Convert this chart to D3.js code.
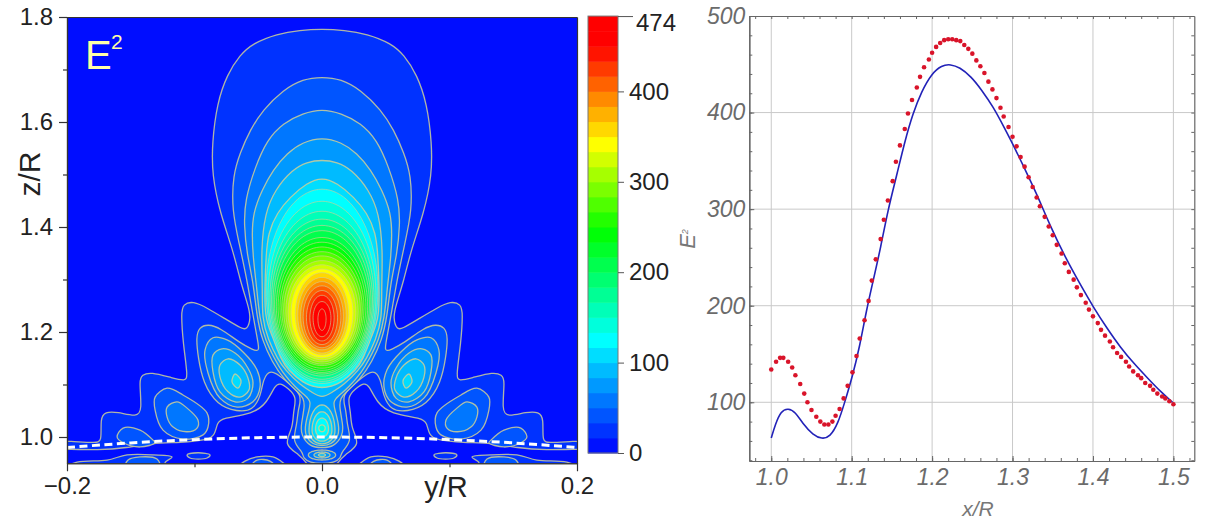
<!DOCTYPE html>
<html>
<head>
<meta charset="utf-8">
<script src="https://cdn.jsdelivr.net/npm/d3@7"></script>
<style>
  html, body { margin: 0; padding: 0; background: #fff; }
  svg { display: block; }
  text { font-family: "Liberation Sans", Arial, sans-serif; }
  .left .domain, .left .tick line { stroke: #333; stroke-width: 1.2; }
  .left .tick text { fill: #222; font-size: 24px; }
  .bar .domain { display: none; }
  .bar .tick line { stroke: #555; stroke-width: 1; }
  .bar .tick text { fill: #222; font-size: 24px; }
  .right .domain { stroke: #666; stroke-width: 1.2; }
  .right .tick line { stroke: #666; stroke-width: 1; }
  .right .tick text { fill: #6b6b6b; font-size: 23px; font-style: italic; }
</style>
</head>
<body>
<div id="chart"></div>
<script>
const WIDTH = 1205;
const HEIGHT = 524;

// left panel. contour step is 100/6, k is the level number
const LEVEL_STEP = 100 / 6;
const BAND_COUNT = 29;
const colorStops = [0, 125, 245, 342, 450];
const colorNames = ["#0000ff", "#00ffff", "#00ff00", "#ffff00", "#ff0000"];
const barTicks = [0, 100, 200, 300, 400, 474];

// half outlines [y, z], from the top of the axis y=0 round the left side to the bottom
const outline1 = [[0,1.777],[-.0173,1.775],[-.0353,1.768],[-.0541,1.750],[-.0643,1.728],[-.0745,1.690],[-.0823,1.636],[-.0862,1.560],[-.0862,1.499],[-.08,1.427],[-.0698,1.356],[-.0643,1.299],[-.058,1.251],[-.0557,1.227],[-.0588,1.204],[-.0627,1.206],[-.0745,1.223],[-.0902,1.246],[-.1011,1.259],[-.109,1.253],[-.1105,1.236],[-.109,1.179],[-.1051,1.114],[-.1074,1.107],[-.1168,1.112],[-.1348,1.124],[-.1411,1.118],[-.1435,1.109],[-.1411,1.051],[-.145,1.038],[-.1607,1.048],[-.1701,1.048],[-.174,1.036],[-.1725,.990],[-.178,.989],[-.1991,.992],[-.2054,.992],[-.2054,.975],[-.1991,.977],[-.1764,.975],[-.1529,.979],[-.1325,.989],[-.1113,.989],[-.0894,.994],[-.0839,1.004],[-.0823,1.027],[-.0784,1.036],[-.0541,1.044],[-.0431,1.065],[-.0368,1.099],[-.0329,1.103],[-.0267,1.093],[-.0196,1.076],[-.0227,1.048],[-.0227,1.017],[-.0306,.985],[-.0172,.966],[-.0118,.949],[-.0078,.937],[0,.937]];
const outline2 = [[0,1.686],[-.0149,1.682],[-.0306,1.661],[-.0463,1.623],[-.0564,1.585],[-.0643,1.541],[-.0698,1.499],[-.0706,1.432],[-.0651,1.370],[-.0588,1.299],[-.0549,1.242],[-.051,1.190],[-.0486,1.162],[-.0541,1.166],[-.0643,1.179],[-.08,1.208],[-.0894,1.215],[-.0964,1.209],[-.0988,1.190],[-.0972,1.152],[-.0933,1.103],[-.0823,1.061],[-.0666,1.048],[-.0541,1.050],[-.0478,1.080],[-.0463,1.109],[-.0408,1.131],[-.029,1.109],[-.0149,1.080],[-.0188,1.055],[-.0196,1.023],[-.0235,.991],[-.0149,.971],[-.0149,.960],[-.0094,.951],[0,.949]];
const outline3 = [[0,1.625],[-.0149,1.617],[-.0306,1.598],[-.0431,1.566],[-.0525,1.514],[-.0604,1.451],[-.0612,1.404],[-.0588,1.347],[-.0541,1.299],[-.051,1.227],[-.047,1.185],[-.0392,1.143],[-.0298,1.109],[-.0172,1.082],[-.0149,1.074],[-.0133,1.061],[-.0165,1.023],[-.0165,1.004],[-.0094,.981],[0,.979]];
const outline4 = [[0,1.571],[-.0149,1.562],[-.0274,1.541],[-.0384,1.509],[-.047,1.471],[-.0541,1.427],[-.0549,1.385],[-.0541,1.343],[-.051,1.280],[-.049,1.227],[-.0447,1.185],[-.0368,1.147],[-.0314,1.124],[-.0204,1.093],[-.0125,1.078],[-.0086,1.067],[-.0102,1.051],[-.0133,1.023],[-.0133,1.002],[-.0071,.985],[0,.983]];
const outline5 = [[0,1.528],[-.0118,1.524],[-.0235,1.509],[-.0368,1.471],[-.0447,1.427],[-.0478,1.356],[-.0466,1.280],[-.0471,1.227],[-.0423,1.185],[-.0345,1.147],[-.029,1.128],[-.0172,1.099],[-.0071,1.084],[0,1.074]];
const outline6 = [[0,1.495],[-.0118,1.484],[-.0251,1.457],[-.0353,1.427],[-.0423,1.389],[-.0439,1.343],[-.0447,1.299],[-.0451,1.227],[-.0392,1.194],[-.0321,1.147],[-.0267,1.128],[-.0157,1.103],[0,1.090]];

// closed rings off the axis, left side only, the right side is the mirror
const bigLobe3 = [[-.0855,1.189],[-.0745,1.185],[-.0619,1.162],[-.051,1.128],[-.0486,1.095],[-.0541,1.067],[-.0666,1.057],[-.08,1.074],[-.0894,1.122],[-.0917,1.166]];
const bigLobe4 = [[-.0784,1.168],[-.0682,1.160],[-.058,1.131],[-.0541,1.103],[-.058,1.074],[-.0682,1.067],[-.08,1.086],[-.0855,1.124],[-.0855,1.156]];
const bigLobe5 = [[-.0737,1.149],[-.0643,1.137],[-.058,1.112],[-.0572,1.090],[-.0643,1.076],[-.0737,1.086],[-.08,1.114],[-.08,1.137]];
const bigLobe6 = [[-.0682,1.120],[-.0635,1.107],[-.0659,1.093],[-.0706,1.105]];
const midLobe2 = [[-.1309,1.076],[-.1215,1.093],[-.109,1.080],[-.0902,1.046],[-.0894,1.019],[-.0933,1.004],[-.109,.996],[-.1247,1.013],[-.1309,1.051]];
const midLobe3 = [[-.1215,1.057],[-.1137,1.067],[-.1058,1.055],[-.0972,1.032],[-.098,1.017],[-.1058,1.010],[-.1168,1.019],[-.1215,1.038]];
const lowLobe2 = [[-.1607,1.000],[-.156,1.017],[-.1427,1.013],[-.1325,.994],[-.1309,.989],[-.1427,.981],[-.156,.989]];
const strip1 = [[-.2054,.937],[-.1921,.952],[-.1686,.956],[-.1529,.966],[-.1325,.966],[-.1176,.962],[-.1231,.951],[-.1192,.937]];
const strip2 = [[-.1544,.941],[-.1521,.956],[-.1427,.962],[-.1294,.958],[-.127,.941]];
const islandB = [[-.1058,.966],[-.0972,.970],[-.0878,.966],[-.0902,.960],[-.0972,.958],[-.1035,.960]];
const islandC1 = [[-.0659,.941],[-.0604,.954],[-.051,.962],[-.0384,.962],[-.0306,.951],[-.0267,.941]];
const islandC2 = [[-.0564,.941],[-.051,.956],[-.0408,.954],[-.0361,.941]];

// main lobe rings, levels 7 to 28
const lobeLevels = [7,8,9,10,11,12,13,14,15,16,17,18,19,20,21,22,23,24,25,26,27,28];
const lobeTop = [1.472,1.449,1.430,1.415,1.403,1.393,1.380,1.371,1.362,1.353,1.345,1.336,1.328,1.320,1.313,1.304,1.296,1.288,1.279,1.270,1.258,1.244];
const lobeBottom = [1.095,1.102,1.106,1.110,1.116,1.120,1.123,1.127,1.131,1.136,1.139,1.143,1.147,1.151,1.156,1.160,1.166,1.170,1.176,1.183,1.191,1.203];
const lobeWidest = [1.28,1.27,1.265,1.261,1.257,1.253,1.249,1.248,1.246,1.244,1.242,1.24,1.238,1.236,1.234,1.232,1.23,1.229,1.227,1.227,1.227,1.225];
const lobeHalfWidth = [.0439,.0423,.0408,.0396,.0384,.0372,.0358,.0344,.0330,.0316,.0301,.0284,.0266,.0243,.021,.019,.0168,.0148,.0122,.0095,.007,.0032];

// small lobe under the main one, and the blob at the bottom
const pearLevels = [5,6,7,8];
const pearTop = [1.061,1.048,1.036,1.023];
const pearBottom = [.987,.992,.9998,1.010];
const pearWidest = [1.012,1.013,1.015,1.017];
const pearHalfWidth = [.0102,.0078,.0051,.0025];
const blobLevels = [3,4,5];
const blobTop = [.9752,.9714,.9686];
const blobBottom = [.9562,.96,.9628];
const blobWidest = [.9657,.9657,.9657];
const blobHalfWidth = [.0107,.0063,.0027];

// sphere surface, the dashed line
const surfaceY = [-.2,-.15,-.1,-.05,0,.05,.1,.15,.2];
const surfaceZ = [.98,.9887,.995,.9987,1,.9987,.995,.9887,.98];

// right panel
const dotX = [1.000,1.006,1.011,1.015,1.021,1.026,1.030,1.036,1.041,1.045,1.050,1.056,1.061,1.066,1.071,1.076,1.080,1.085,1.090,1.095,1.101,1.106,1.110,1.116,1.121,1.125,1.130,1.136,1.140,1.145,1.151,1.155,1.160,1.166,1.170,1.175,1.181,1.185,1.190,1.196,1.200,1.205,1.210,1.215,1.220,1.225,1.230,1.235,1.240,1.245,1.250,1.255,1.260,1.265,1.270,1.275,1.280,1.285,1.289,1.295,1.300,1.305,1.310,1.315,1.320,1.325,1.330,1.334,1.340,1.345,1.350,1.355,1.361,1.365,1.370,1.376,1.380,1.385,1.391,1.395,1.400,1.406,1.410,1.415,1.421,1.425,1.430,1.435,1.441,1.445,1.450,1.456,1.460,1.465,1.471,1.475,1.480,1.486,1.490,1.495,1.500];
const dotE2 = [134,142,146,146,142,136,128,119,109,100,92,85,80,77,77,80,86,93,104,117,131,148,166,185,205,226,248,269,289,309,329,349,366,383,399,413,426,437,447,455,462,468,472,475,476,476,475,474,470,466,461,454,448,441,432,424,415,405,396,385,375,365,354,344,333,323,312,303,292,282,273,263,254,244,235,227,219,211,203,196,189,182,175,169,163,157,151,147,142,137,132,128,125,120,117,113,109,106,104,101,98];
const curveX = [1.000,1.005,1.012,1.021,1.030,1.039,1.052,1.063,1.073,1.083,1.091,1.101,1.110,1.118,1.127,1.136,1.145,1.156,1.166,1.176,1.187,1.199,1.212,1.223,1.234,1.249,1.261,1.276,1.290,1.303,1.315,1.330,1.346,1.368,1.385,1.400,1.418,1.434,1.451,1.468,1.484,1.499];
const curveE2 = [63,77,91,94,90,78,66,62,64,78,99,127,158,194,227,260,299,335,370,399,422,440,449,450,447,437,424,406,384,363,342,316,284,246,221,199,176,157,140,125,111,100];
const xTicks = [1.0,1.1,1.2,1.3,1.4,1.5];
const xMinorTicks = d3.range(0,28).map(function (i) { return +(0.98 + i * 0.02).toFixed(2); });
const yTicks = [100,200,300,400,500];
const yMinorTicks = d3.range(0,24).map(function (i) { return 40 + i * 20; });

const svg = d3.select("#chart").append("svg").attr("width", WIDTH).attr("height", HEIGHT);

const yScale = d3.scaleLinear().domain([-0.2, 0.2]).range([67, 577]);
const zScale = d3.scaleLinear().domain([0.95, 1.8]).range([463.25, 17]);
const bandScale = d3.scaleLinear().domain([0, 500]).range([453, 1]);
const color = d3.scaleLinear().domain(colorStops).range(colorNames).clamp(true);

function bandColor(k) { return color((k + 0.5) * LEVEL_STEP); }

function mirror(points) { return points.map(function (p) { return [-p[0], p[1]]; }); }

// whole outline out of a half that starts and ends on the axis
function wholeOutline(half) {
  return half.concat(mirror(half).slice(1, -1).reverse());
}

// ring from the four values read for it
function ring(top, bottom, widest, halfWidth) {
  const pts = [];
  d3.range(0, 48).forEach(function (i) {
    const a = i / 48 * 2 * Math.PI;
    const s = Math.sin(a);
    const h = s > 0 ? top - widest : widest - bottom;
    pts.push([halfWidth * Math.cos(a), widest + h * s]);
  });
  return pts;
}

// everything that is painted, low levels first
let contours = [];
[outline1, outline2, outline3, outline4, outline5, outline6].forEach(function (o, i) {
  contours.push({k: i + 1, points: wholeOutline(o), soft: true});
});
[[2,midLobe2],[2,lowLobe2],[3,midLobe3],[3,bigLobe3],[4,bigLobe4],[5,bigLobe5],[6,bigLobe6],
 [1,strip1],[2,strip2],[1,islandB],[1,islandC1],[2,islandC2]].forEach(function (d) {
  contours.push({k: d[0], points: d[1]});
  contours.push({k: d[0], points: mirror(d[1])});
});
lobeLevels.forEach(function (k, i) {
  contours.push({k: k, points: ring(lobeTop[i], lobeBottom[i], lobeWidest[i], lobeHalfWidth[i]), fine: true});
});
pearLevels.forEach(function (k, i) {
  contours.push({k: k, points: ring(pearTop[i], pearBottom[i], pearWidest[i], pearHalfWidth[i])});
});
blobLevels.forEach(function (k, i) {
  contours.push({k: k, points: ring(blobTop[i], blobBottom[i], blobWidest[i], blobHalfWidth[i])});
});
contours = d3.sort(contours, function (d) { return d.k; });

svg.append("clipPath").attr("id", "plotClip").append("rect")
   .attr("x", yScale(-0.2)).attr("y", zScale(1.8))
   .attr("width", yScale(0.2) - yScale(-0.2)).attr("height", zScale(0.95) - zScale(1.8));

svg.append("filter").attr("id", "soft").append("feGaussianBlur").attr("stdDeviation", 0.45);

const ringPath = d3.line()
    .x(function (d) { return yScale(d[0]); })
    .y(function (d) { return zScale(d[1]); })
    .curve(d3.curveCatmullRomClosed.alpha(0.5));
const softPath = d3.line()
    .x(function (d) { return yScale(d[0]); })
    .y(function (d) { return zScale(d[1]); })
    .curve(d3.curveBasisClosed);

const plot = svg.append("g").attr("clip-path", "url(#plotClip)").append("g").attr("filter", "url(#soft)");
plot.append("rect")
    .attr("x", yScale(-0.2) - 4).attr("y", zScale(1.8) - 4)
    .attr("width", yScale(0.2) - yScale(-0.2) + 8).attr("height", zScale(0.95) - zScale(1.8) + 8)
    .attr("fill", bandColor(0));
plot.selectAll("path.level").data(contours).enter().append("path")
    .attr("class", "level")
    .attr("d", function (d) { return d.soft ? softPath(d.points) : ringPath(d.points); })
    .attr("fill", function (d) { return bandColor(d.k); })
    .attr("stroke", "#cfcf96")
    .attr("stroke-opacity", function (d) { return d.fine ? 0.7 : 0.85; })
    .attr("stroke-width", function (d) { return d.fine ? 0.9 : 1.3; });

plot.append("path")
    .datum(d3.zip(surfaceY, surfaceZ))
    .attr("d", d3.line()
        .x(function (d) { return yScale(d[0]); })
        .y(function (d) { return zScale(d[1]); })
        .curve(d3.curveNatural))
    .attr("fill", "none")
    .attr("stroke", "#fff")
    .attr("stroke-width", 3)
    .attr("stroke-dasharray", "8 4.5");

// axes of the left panel
const leftAxes = svg.append("g").attr("class", "left");
leftAxes.append("g").attr("transform", "translate(67,0)")
    .call(d3.axisLeft(zScale).tickValues([1.0,1.2,1.4,1.6,1.8]).tickFormat(d3.format(".1f")).tickSizeInner(8).tickSizeOuter(0).tickPadding(6));
leftAxes.append("g").attr("transform", "translate(67,0)")
    .call(d3.axisLeft(zScale).tickValues([1.1,1.3,1.5,1.7]).tickFormat("").tickSizeInner(4).tickSizeOuter(0));
leftAxes.append("g").attr("transform", "translate(0,463.25)")
    .call(d3.axisBottom(yScale).tickValues([-0.2,0,0.2]).tickFormat(d3.format(".1f")).tickSizeInner(8).tickSizeOuter(0).tickPadding(6));
leftAxes.append("g").attr("transform", "translate(0,463.25)")
    .call(d3.axisBottom(yScale).tickValues([-0.1,0.1]).tickFormat("").tickSizeInner(4).tickSizeOuter(0));
leftAxes.append("g").attr("transform", "translate(0,17)")
    .call(d3.axisTop(yScale).tickValues([]).tickSizeOuter(0));
leftAxes.append("g").attr("transform", "translate(577,0)")
    .call(d3.axisRight(zScale).tickValues([]).tickSizeOuter(0));

svg.append("text").attr("x", 85).attr("y", 69).attr("font-size", 40).attr("fill", "#ffffa8").text("E");
svg.append("text").attr("x", 111).attr("y", 49).attr("font-size", 21).attr("fill", "#ffffa8").text("2");
svg.append("text").attr("transform", "translate(40,174) rotate(-90)").attr("text-anchor", "middle")
   .attr("font-size", 30).attr("fill", "#222").text("z/R");
svg.append("text").attr("x", 446).attr("y", 497).attr("text-anchor", "middle")
   .attr("font-size", 29).attr("fill", "#222").text("y/R");

// colour bar
const bar = svg.append("g").attr("class", "bar");
bar.selectAll("rect").data(d3.range(0, BAND_COUNT)).enter().append("rect")
   .attr("x", 588)
   .attr("width", 30)
   .attr("y", function (k) { return bandScale((k + 1) * LEVEL_STEP); })
   .attr("height", function (k) { return bandScale(k * LEVEL_STEP) - bandScale((k + 1) * LEVEL_STEP) + 0.5; })
   .attr("fill", bandColor);
bar.append("rect").attr("x", 588).attr("y", bandScale(BAND_COUNT * LEVEL_STEP)).attr("width", 30)
   .attr("height", bandScale(0) - bandScale(BAND_COUNT * LEVEL_STEP))
   .attr("fill", "none").attr("stroke", "#777").attr("stroke-width", 1);
const barAxisScale = d3.scaleLinear().domain([0, 400, 474])
    .range([bandScale(0), bandScale(400), bandScale(BAND_COUNT * LEVEL_STEP)]);
bar.append("g").attr("transform", "translate(618,0)")
   .call(d3.axisRight(barAxisScale).tickValues(barTicks).tickFormat(d3.format("d")).tickSizeInner(6).tickSizeOuter(0).tickPadding(5));
bar.selectAll(".tick").filter(function (d) { return d === 474; }).each(function () {
  d3.select(this).select("line").attr("x2", 15);
  d3.select(this).select("text").attr("x", 18).attr("dy", "0.6em");
});

// right panel
const xScale = d3.scaleLinear().domain([0.9727, 1.526]).range([749.3, 1194.3]);
const eScale = d3.scaleLinear().domain([39.2, 500]).range([461, 16]);

const grid = svg.append("g").attr("stroke", "#c9c9c9").attr("stroke-width", 1);
grid.selectAll("line.v").data(xTicks).enter().append("line").attr("class", "v")
    .attr("x1", xScale).attr("x2", xScale).attr("y1", 16).attr("y2", 461);
grid.selectAll("line.h").data(yTicks.slice(0, 4)).enter().append("line").attr("class", "h")
    .attr("y1", eScale).attr("y2", eScale).attr("x1", 749.3).attr("x2", 1194.3);

const rightAxes = svg.append("g").attr("class", "right");
rightAxes.append("g").attr("transform", "translate(0,461)")
    .call(d3.axisBottom(xScale).tickValues(xMinorTicks).tickFormat("").tickSizeInner(-3).tickSizeOuter(0));
rightAxes.append("g").attr("transform", "translate(0,461)")
    .call(d3.axisBottom(xScale).tickValues(xTicks).tickFormat(d3.format(".1f")).tickSizeInner(-5).tickSizeOuter(0).tickPadding(8));
rightAxes.append("g").attr("transform", "translate(749.3,0)")
    .call(d3.axisLeft(eScale).tickValues(yMinorTicks).tickFormat("").tickSizeInner(-3).tickSizeOuter(0));
rightAxes.append("g").attr("transform", "translate(749.3,0)")
    .call(d3.axisLeft(eScale).tickValues(yTicks).tickFormat(d3.format("d")).tickSizeInner(-5).tickSizeOuter(0).tickPadding(4));
rightAxes.append("g").attr("transform", "translate(0,16)")
    .call(d3.axisTop(xScale).tickValues(xMinorTicks).tickFormat("").tickSizeInner(-3).tickSizeOuter(0));
rightAxes.append("g").attr("transform", "translate(1194.3,0)")
    .call(d3.axisRight(eScale).tickValues(yMinorTicks).tickFormat("").tickSizeInner(-3).tickSizeOuter(0));

svg.append("path")
   .datum(d3.zip(curveX, curveE2))
   .attr("d", d3.line()
       .x(function (d) { return xScale(d[0]); })
       .y(function (d) { return eScale(d[1]); })
       .curve(d3.curveBasis))
   .attr("fill", "none").attr("stroke", "#2222b8").attr("stroke-width", 1.6);

svg.append("g").selectAll("circle").data(d3.zip(dotX, dotE2)).enter().append("circle")
   .attr("cx", function (d) { return xScale(d[0]); })
   .attr("cy", function (d) { return eScale(d[1]); })
   .attr("r", 2.3)
   .attr("fill", "#d9142a");

svg.append("text").attr("x", 978).attr("y", 516).attr("text-anchor", "middle")
   .attr("font-size", 21).attr("font-style", "italic").attr("fill", "#777").text("x/R");
const eTitle = svg.append("text").attr("transform", "translate(695,239) rotate(-90)").attr("text-anchor", "middle")
   .attr("font-size", 22).attr("font-style", "italic").attr("fill", "#777");
eTitle.append("tspan").text("E");
eTitle.append("tspan").attr("dy", -7).attr("font-size", 9).text("2");
</script>
</body>
</html>
